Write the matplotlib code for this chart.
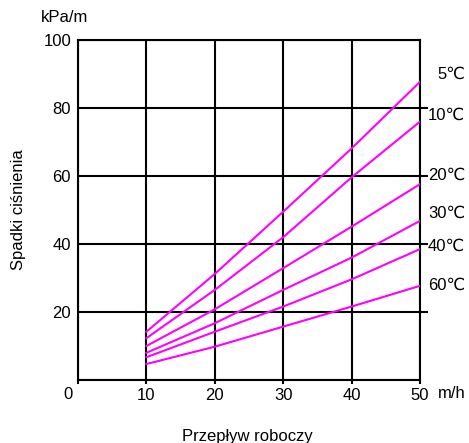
import matplotlib
matplotlib.use("Agg")
import matplotlib.pyplot as plt

plt.rcParams['font.family'] = ['Liberation Sans', 'DejaVu Sans']

# przeplyw roboczy [m/h]
flow = [10, 20, 30, 40, 50]

# spadki cisnienia [kPa/m] dla roznych temperatur
temps = ['5℃', '10℃', '20℃', '30℃', '40℃', '60℃']
dp_5 = [14.2, 31.2, 49.5, 68.1, 87.7]
dp_10 = [12.3, 26.5, 42.0, 59.6, 76.0]
dp_20 = [10.0, 20.8, 32.9, 45.1, 57.6]
dp_30 = [8.0, 16.7, 26.5, 36.0, 46.8]
dp_40 = [6.7, 14.2, 21.6, 29.6, 38.5]
dp_60 = [4.7, 9.8, 15.7, 21.6, 27.7]
series = [dp_5, dp_10, dp_20, dp_30, dp_40, dp_60]

# pozycje etykiet temperatur (po prawej stronie)
label_y = [89.9, 78.0, 60.3, 49.1, 39.2, 27.9]

xticks = [0, 10, 20, 30, 40, 50]
xticklabels = ['', '10', '20', '30', '40', '50']
yticks = [0, 20, 40, 60, 80, 100]
yticklabels = ['', '20', '40', '60', '80', '100']

fig = plt.figure(figsize=(4.69, 4.43), dpi=100)
ax = fig.add_axes([0.1663, 0.1422, 0.7292, 0.7675])

for vals in series:
    ax.plot(flow, vals, color='#ff00ff', lw=1.5, zorder=3)

ax.set_xlim(0, 50)
ax.set_ylim(0, 100)
ax.set_xticks(xticks)
ax.set_xticklabels(xticklabels, fontsize=12)
ax.set_yticks(yticks)
ax.set_yticklabels(yticklabels, fontsize=12)

ax.grid(True, color='black', lw=1.5)
for sp in ax.spines.values():
    sp.set_linewidth(1.5)

ax.tick_params(axis='x', direction='out', length=3, width=1.5, pad=3)
ax.tick_params(axis='y', left=False, right=True, labelright=False,
               direction='out', length=6, width=1.5, pad=-1)
# brak kresek po prawej przy 0 i 100
yt = ax.yaxis.get_major_ticks()
yt[0].tick2line.set_visible(False)
yt[-1].tick2line.set_visible(False)

for t, y in zip(temps, label_y):
    ax.text(56.6, y, t, ha='right', va='center', fontsize=12, clip_on=False)

ax.text(-1.5, -2.1, '0', ha='center', va='top', fontsize=12, clip_on=False)
fig.text(65 / 469, 1 - 18 / 443, 'kPa/m', ha='center', va='center', fontsize=12)
fig.text(438 / 469, 1 - 394 / 443, 'm/h', ha='left', va='center', fontsize=12)
fig.text(247 / 469, 1 - 436 / 443, 'Przepływ roboczy', ha='center', va='center', fontsize=12)
fig.text(18 / 469, 1 - 210 / 443, 'Spadki ciśnienia', ha='center', va='center',
         rotation=90, fontsize=12)

fig.savefig('out.png', dpi=100)
